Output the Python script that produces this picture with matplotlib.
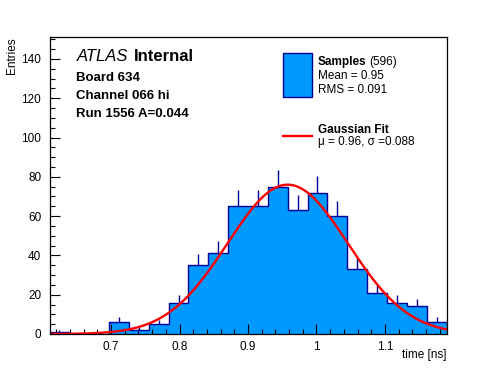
import numpy as np
import matplotlib
matplotlib.use("Agg")
import matplotlib.pyplot as plt
from matplotlib.patches import Rectangle
from matplotlib.lines import Line2D

# ---- data ----
bin_lo, bin_hi, n_bins = 0.61, 1.19, 20
counts = [1, 0, 0, 6, 2, 5, 16, 35, 41, 65, 65, 75, 63, 72, 60, 33, 21, 16, 14, 6]
fit_amp, fit_mu, fit_sigma = 76.0, 0.958, 0.088
x_ticks = [0.7, 0.8, 0.9, 1.0, 1.1]
x_tick_labels = ["0.7", "0.8", "0.9", "1", "1.1"]
y_ticks = [0, 20, 40, 60, 80, 100, 120, 140]
info_lines = ["Board 634", "Channel 066 hi", "Run 1556 A=0.044"]

FILL = "#0099ff"
NAVY = "#000099"
plt.rcParams['font.family'] = ['Liberation Sans', 'DejaVu Sans']

W, H = 496, 372
fig = plt.figure(figsize=(W / 100, H / 100), dpi=100)
L, R, T, B = 49.5, 446.5, 37.3, 334.0
ax = fig.add_axes([L / W, 1 - B / H, (R - L) / W, (B - T) / H])

edges = np.linspace(bin_lo, bin_hi, n_bins + 1)
centers = 0.5 * (edges[:-1] + edges[1:])
cnt = np.array(counts, dtype=float)

ax.stairs(cnt, edges, fill=True, color=FILL, zorder=1)
ax.stairs(cnt, edges, fill=False, color=NAVY, lw=1.0, zorder=2)
err = np.sqrt(cnt)
m = cnt > 0
ax.vlines(centers[m], cnt[m], (cnt + err)[m], color=NAVY, lw=1.0, zorder=2)

xs = np.linspace(bin_lo, bin_hi, 400)
ys = fit_amp * np.exp(-0.5 * ((xs - fit_mu) / fit_sigma) ** 2)
ax.plot(xs, ys, color="red", lw=1.7, zorder=3)

ax.set_xlim(bin_lo, bin_hi)
ax.set_ylim(0, 151)
ax.set_xticks(x_ticks)
ax.set_xticklabels(x_tick_labels)
ax.set_yticks(y_ticks)
ax.set_xticks(np.arange(0.62, 1.19, 0.02), minor=True)
ax.set_yticks(np.arange(0, 151, 5), minor=True)
ax.tick_params(which='both', direction='in', top=False, right=False, labelsize=8.5, width=0.8)
ax.tick_params(which='major', length=7)
ax.tick_params(which='minor', length=3.6)
ax.tick_params(axis='y', pad=6)
ax.tick_params(axis='x', pad=5)
for s in ax.spines.values():
    s.set_linewidth(0.9)
    s.set_zorder(5)

def fx(x):
    return x / W

def fy(y):
    return 1 - y / H

fig.text(fx(12), fy(37), "Entries", rotation=90, ha='center', va='top', fontsize=8.5)
fig.text(fx(446), fy(355), "time [ns]", ha='right', va='center', fontsize=8.5)

t1 = fig.text(fx(76.5), fy(60.7), "ATLAS", style='italic', fontsize=12, va='baseline')
ax.annotate("Internal", xy=(1, 0), xycoords=t1, xytext=(4, 0), textcoords='offset points',
            fontweight='bold', fontsize=12, va='bottom', ha='left')
for i, line in enumerate(info_lines):
    fig.text(fx(76.5), fy(81 + 18 * i), line, fontweight='bold', fontsize=9.5, va='baseline')

# legend
fig.patches.append(Rectangle((fx(283), fy(97)), (312 - 283) / W, (97 - 53) / H,
                             transform=fig.transFigure, facecolor=FILL, edgecolor=NAVY, lw=1.0))
fig.lines.append(Line2D([fx(283), fx(312)], [fy(136), fy(136)], transform=fig.transFigure,
                        color='red', lw=1.7))
t2 = fig.text(fx(317.5), fy(65.3), "Samples", fontweight='bold', fontsize=8.5, va='baseline')
ax.annotate("(596)", xy=(1, 0), xycoords=t2, xytext=(2.5, 0), textcoords='offset points',
            fontsize=8.5, va='bottom', ha='left')
fig.text(fx(317.5), fy(79.3), "Mean = 0.95", fontsize=8.5, va='baseline')
fig.text(fx(317.5), fy(93.3), "RMS = 0.091", fontsize=8.5, va='baseline')
fig.text(fx(317.5), fy(132.7), "Gaussian Fit", fontweight='bold', fontsize=8.5, va='baseline')
fig.text(fx(317.5), fy(145), "\u03bc = 0.96, \u03c3 =0.088", fontsize=8.5, va='baseline')

fig.savefig("out.png", dpi=100)
